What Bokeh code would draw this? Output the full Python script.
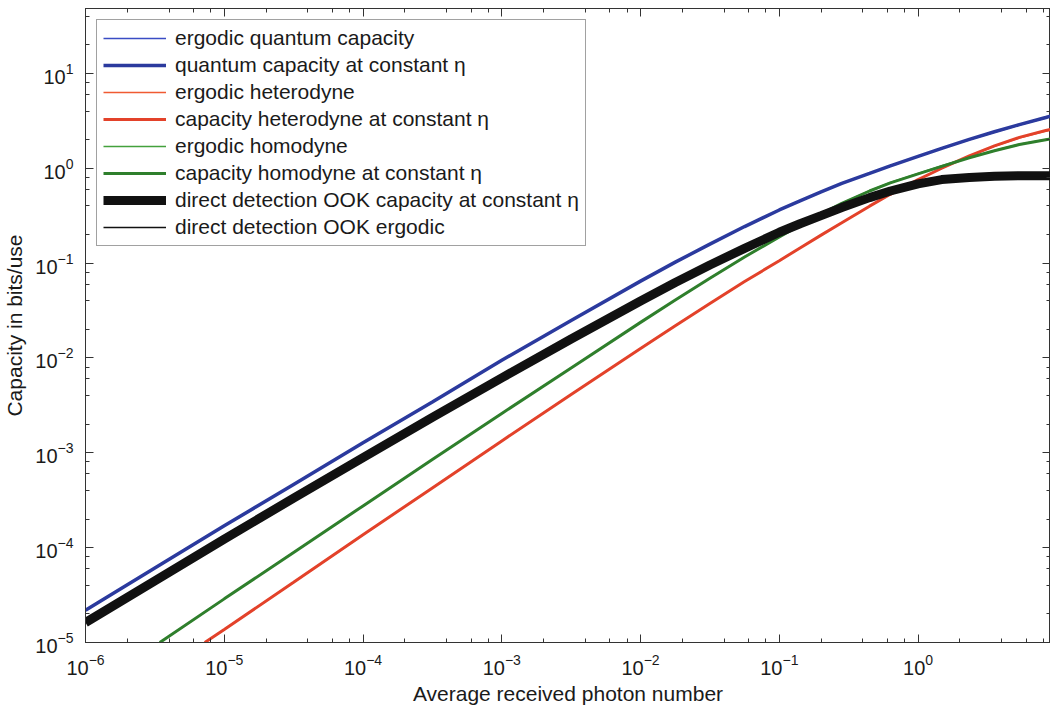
from bokeh.plotting import figure
from bokeh.models import LogAxis, LogTicker, Legend, LegendItem, CustomJSTickFormatter, Range1d
from bokeh.embed import file_html
from bokeh.resources import INLINE

# ---------------- data ----------------
photon = [1e-6, 3.16e-6, 1e-5, 3.16e-5, 1e-4, 3.16e-4, 1e-3, 3.16e-3, 1e-2, 1.78e-2,
          3.16e-2, 5.62e-2, 0.1, 0.141, 0.2, 0.282, 0.447, 0.631, 1.0, 1.48, 2.34,
          3.55, 5.37, 8.32, 9.0]

quantum_const = [2.188e-5, 6.095e-5, 1.698e-4, 4.645e-4, 1.274e-3, 3.428e-3, 9.44e-3,
                 2.483e-2, 6.457e-2, 0.1023, 0.1585, 0.2427, 0.3631, 0.4519, 0.5623,
                 0.6918, 0.8810, 1.059, 1.334, 1.622, 2.018, 2.427, 2.884, 3.428, 3.548]
quantum_ergodic = [2.188e-5, 6.095e-5, 1.698e-4, 4.645e-4, 1.274e-3, 3.428e-3, 9.44e-3,
                   2.483e-2, 6.457e-2, 0.1023, 0.1585, 0.2427, 0.3631, 0.4519, 0.5623,
                   0.6918, 0.8810, 1.055, 1.325, 1.61, 2.00, 2.40, 2.85, 3.39, 3.51]

ook_const = [1.622e-5, 4.467e-5, 1.230e-4, 3.327e-4, 8.913e-4, 2.360e-3, 6.166e-3,
             1.585e-2, 3.981e-2, 6.237e-2, 9.550e-2, 0.1429, 0.2113, 0.2600, 0.3162,
             0.3846, 0.4898, 0.5754, 0.6839, 0.7586, 0.7998, 0.8222, 0.8337, 0.8337, 0.8337]
ook_ergodic = [1.622e-5, 4.467e-5, 1.230e-4, 3.327e-4, 8.913e-4, 2.360e-3, 6.166e-3,
               1.585e-2, 3.981e-2, 6.237e-2, 9.550e-2, 0.1429, 0.2113, 0.2600, 0.3162,
               0.3846, 0.4898, 0.5754, 0.6839, 0.7586, 0.7998, 0.8222, 0.8337, 0.8337, 0.8337]

photon_hom = [3.43e-6, 1e-5, 3.16e-5, 1e-4, 3.16e-4, 1e-3, 3.16e-3, 1e-2, 1.78e-2,
              3.16e-2, 5.62e-2, 0.1, 0.141, 0.2, 0.282, 0.447, 0.631, 1.0, 1.48, 2.34,
              3.55, 5.37, 8.32, 9.0]
homodyne_const = [1e-5, 2.884e-5, 8.913e-5, 2.754e-4, 8.511e-4, 2.600e-3, 7.852e-3,
                  2.371e-2, 4.074e-2, 6.918e-2, 0.1161, 0.1884, 0.2512, 0.3311, 0.4266,
                  0.5754, 0.6998, 0.8710, 1.047, 1.288, 1.531, 1.778, 1.995, 2.032]
homodyne_ergodic = [1e-5, 2.884e-5, 8.913e-5, 2.754e-4, 8.511e-4, 2.600e-3, 7.852e-3,
                    2.371e-2, 4.074e-2, 6.918e-2, 0.1161, 0.1884, 0.2512, 0.3320, 0.4290,
                    0.5800, 0.7080, 0.880, 1.06, 1.30, 1.54, 1.79, 2.01, 2.045]

photon_het = [7.24e-6, 1e-5, 3.16e-5, 1e-4, 3.16e-4, 1e-3, 3.16e-3, 1e-2, 1.78e-2,
              3.16e-2, 5.62e-2, 0.1, 0.141, 0.2, 0.282, 0.447, 0.631, 1.0, 1.48, 2.34,
              3.55, 5.37, 8.32, 9.0]
heterodyne_const = [1e-5, 1.374e-5, 4.315e-5, 1.365e-4, 4.266e-4, 1.334e-3, 4.121e-3,
                    1.259e-2, 2.188e-2, 3.758e-2, 6.383e-2, 0.1059, 0.1445, 0.1972, 0.2661,
                    0.3981, 0.5309, 0.7586, 1.0, 1.349, 1.718, 2.113, 2.50, 2.57]
heterodyne_ergodic = [1e-5, 1.374e-5, 4.315e-5, 1.365e-4, 4.266e-4, 1.334e-3, 4.121e-3,
                      1.259e-2, 2.188e-2, 3.758e-2, 6.383e-2, 0.1059, 0.1445, 0.1972, 0.2661,
                      0.3981, 0.5309, 0.7586, 0.995, 1.34, 1.70, 2.08, 2.46, 2.52]

labels = [
    "ergodic quantum capacity",
    "quantum capacity at constant \u03b7",
    "ergodic heterodyne",
    "capacity heterodyne at constant \u03b7",
    "ergodic homodyne",
    "capacity homodyne at constant \u03b7",
    "direct detection OOK capacity at constant \u03b7",
    "direct detection OOK ergodic",
]

FONT = "Liberation Sans"

p = figure(width=1050, height=707, x_axis_type="log", y_axis_type="log",
           x_range=Range1d(1e-6, 9.0), y_range=Range1d(1e-5, 48.3),
           output_backend="svg", toolbar_location=None,
           min_border_left=85, min_border_right=0, min_border_top=8, min_border_bottom=65,
           background_fill_color="white", border_fill_color="white")
p.xgrid.visible = False
p.ygrid.visible = False
p.outline_line_color = "#333333"
p.outline_line_width = 1


def style_axis(ax, show_labels=True):
    ax.major_tick_in = 8
    ax.major_tick_out = 0
    ax.minor_tick_in = 4
    ax.minor_tick_out = 0
    ax.axis_line_color = "#333333"
    ax.major_tick_line_color = "#333333"
    ax.minor_tick_line_color = "#333333"
    ax.major_label_text_font = FONT
    ax.major_label_text_font_size = "20px"
    ax.major_label_text_color = "#1a1a1a"
    ax.axis_label_text_font = FONT
    ax.axis_label_text_font_size = "21px"
    ax.axis_label_text_font_style = "normal"
    ax.axis_label_text_color = "#1a1a1a"
    if not show_labels:
        ax.formatter = CustomJSTickFormatter(code="return ''")
        ax.major_label_standoff = 0


p.xaxis.ticker = LogTicker(desired_num_ticks=10)
p.yaxis.ticker = LogTicker(desired_num_ticks=10)
style_axis(p.xaxis[0])
style_axis(p.yaxis[0])
p.xaxis.axis_label = "Average received photon number"
p.yaxis.axis_label = "Capacity in bits/use"
p.xaxis.major_label_standoff = 11
p.xaxis.axis_label_standoff = 4
p.yaxis.major_label_standoff = 12
p.yaxis.axis_label_standoff = 6

top = LogAxis(ticker=LogTicker(desired_num_ticks=10))
style_axis(top, show_labels=False)
p.add_layout(top, "above")
right = LogAxis(ticker=LogTicker(desired_num_ticks=10))
style_axis(right, show_labels=False)
p.add_layout(right, "right")

BLUE_T, BLUE_K = "#3a4cc4", "#2b3a9e"
RED_T, RED_K = "#f05a32", "#e3422a"
GRN_T, GRN_K = "#43a13c", "#2f7f2c"

r1 = p.line(photon, quantum_ergodic, line_color=BLUE_T, line_width=1.5)
r2 = p.line(photon, quantum_const, line_color=BLUE_K, line_width=3.5)
r3 = p.line(photon_het, heterodyne_ergodic, line_color=RED_T, line_width=1.5)
r4 = p.line(photon_het, heterodyne_const, line_color=RED_K, line_width=3)
r5 = p.line(photon_hom, homodyne_ergodic, line_color=GRN_T, line_width=1.5)
r6 = p.line(photon_hom, homodyne_const, line_color=GRN_K, line_width=3)
r7 = p.line(photon, ook_const, line_color="#111111", line_width=9)
r8 = p.line(photon, ook_ergodic, line_color="#111111", line_width=1.5)
renderers = [r1, r2, r3, r4, r5, r6, r7, r8]

legend = Legend(items=[LegendItem(label=l, renderers=[r]) for l, r in zip(labels, renderers)],
                location="top_left", margin=11, padding=6, spacing=3,
                glyph_width=63, glyph_height=22, label_height=22, label_standoff=9,
                label_text_font=FONT, label_text_font_size="21px", label_text_color="#1a1a1a",
                border_line_color="#444444", border_line_width=1,
                background_fill_color="white", background_fill_alpha=1.0)
p.add_layout(legend)

open("out.html", "w").write(file_html(p, INLINE))
